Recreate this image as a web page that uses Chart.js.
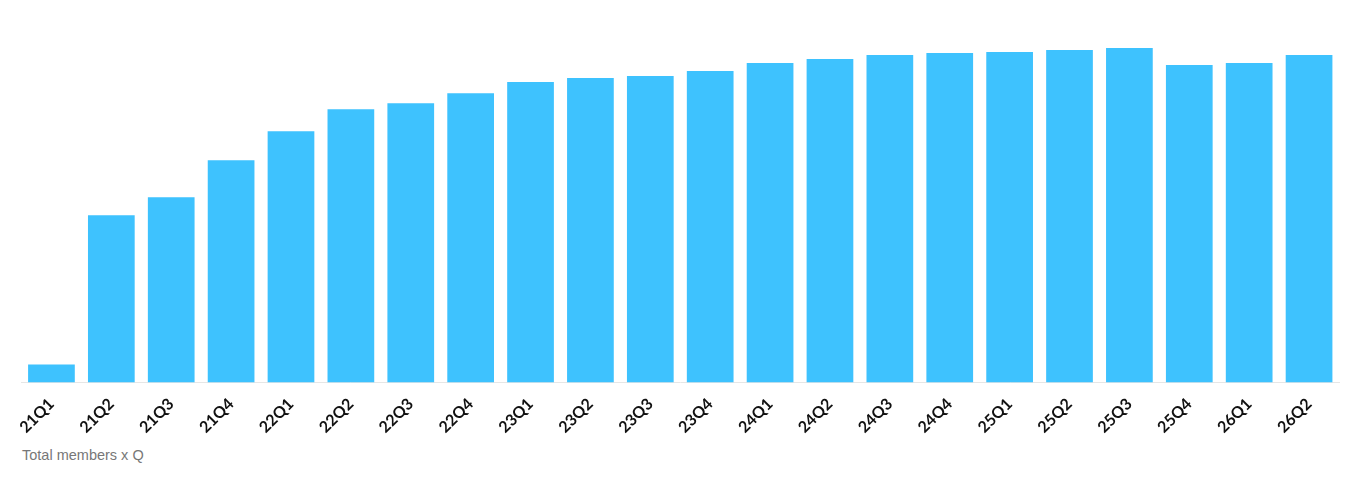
<!DOCTYPE html>
<html>
<head>
<meta charset="utf-8">
<script src="https://cdn.jsdelivr.net/npm/chart.js@4"></script>
<style>
    html, body { margin: 0; padding: 0; background: #fff; }
    #wrap { position: relative; width: 1360px; height: 441px; }
    #caption {
        position: absolute; left: 22px; top: 447px;
        font-family: 'Liberation Sans', Arial, sans-serif;
        font-size: 14.5px; color: #777;
    }
</style>
</head>
<body>
<div id="wrap"><canvas id="myChart"></canvas></div>
<div id="caption">Total members x Q</div>
<script>
const quarters = ['21Q1', '21Q2', '21Q3', '21Q4', '22Q1', '22Q2', '22Q3', '22Q4',
    '23Q1', '23Q2', '23Q3', '23Q4', '24Q1', '24Q2', '24Q3', '24Q4',
    '25Q1', '25Q2', '25Q3', '25Q4', '26Q1', '26Q2']
const members = [18, 167, 185, 222, 251, 273, 279, 289,
    300, 304, 306, 311, 319, 323, 327, 329,
    330, 332, 334, 317, 319, 327]

let ctx = document.getElementById('myChart').getContext('2d')
let chart = new Chart(ctx, {
    type: 'bar',
    data: {
        labels: quarters,
        datasets: [{
            label: 'Total members',
            backgroundColor: 'rgb(62, 194, 254)',
            data: members,
            categoryPercentage: 1,
            barPercentage: 0.78
        }]
    },
    options: {
        responsive: true,
        maintainAspectRatio: false,
        animation: false,
        layout: { padding: { top: 10, left: 21.5, right: 21, bottom: 0 } },
        plugins: { legend: { display: false }, tooltip: { enabled: false } },
        scales: {
            y: { display: false, min: 0, max: 372 },
            x: {
                grid: { display: false },
                border: { color: '#e6e6e6' },
                ticks: {
                    minRotation: 45, maxRotation: 45,
                    color: '#111',
                    padding: 4,
                    font: { family: 'Lato', size: 16, weight: 'bold' }
                }
            }
        }
    }
})
</script>
</body>
</html>
